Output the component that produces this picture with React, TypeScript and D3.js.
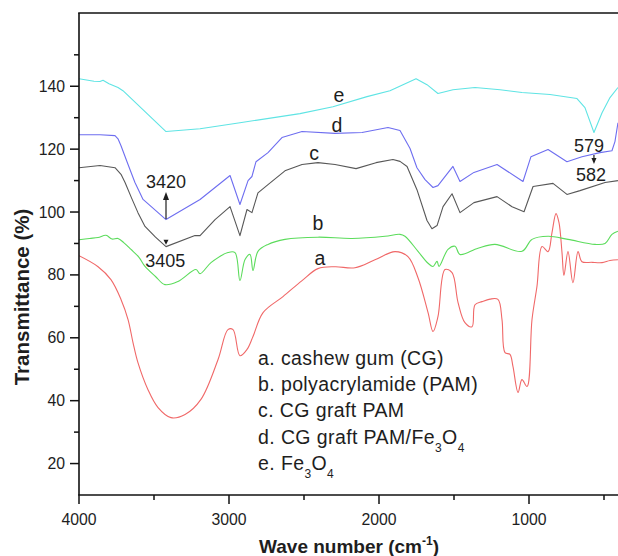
import React from "react";
import * as d3 from "d3";

// FTIR spectra: wavenumber (cm-1) and transmittance (%) for each sample
const waveA = [4000, 3873, 3787, 3720, 3673, 3640, 3607, 3540, 3473, 3387, 3293, 3187, 3073, 3007, 2973, 2927, 2880, 2840, 2773, 2640, 2513, 2407, 2293, 2160, 2027, 1893, 1807, 1740, 1673, 1640, 1607, 1560, 1513, 1473, 1427, 1380, 1360, 1313, 1260, 1207, 1180, 1160, 1127, 1107, 1073, 1047, 1013, 980, 947, 913, 873, 847, 820, 800, 780, 767, 740, 707, 673, 647, 580, 513, 460, 407];
const transA = [86.1, 82.6, 78.5, 72.2, 65.8, 58.5, 52.1, 43.5, 37.8, 34.6, 35.6, 40.4, 53.1, 62.6, 62.6, 54.3, 56.3, 60.4, 68.0, 73.1, 78.2, 82.0, 82.6, 82.3, 84.8, 87.4, 85.8, 79.1, 68.0, 62.0, 66.7, 81.7, 80.7, 71.2, 64.8, 63.5, 70.5, 71.5, 72.3, 72.2, 65.8, 55.3, 54.7, 50.9, 42.6, 46.7, 44.5, 65.8, 76.3, 89.0, 87.4, 93.4, 99.5, 96.6, 87.1, 79.8, 87.4, 77.5, 87.4, 84.2, 84.0, 83.9, 84.6, 84.8];

const waveB = [4000, 3930, 3873, 3820, 3780, 3740, 3700, 3653, 3600, 3560, 3490, 3427, 3340, 3220, 3193, 3120, 3007, 2960, 2927, 2893, 2860, 2840, 2807, 2740, 2627, 2407, 2180, 1960, 1860, 1827, 1740, 1673, 1640, 1613, 1600, 1540, 1493, 1460, 1340, 1227, 1047, 980, 873, 740, 560, 493, 447, 407];
const transB = [91.2, 91.6, 91.9, 92.6, 91.4, 91.6, 90.2, 88.1, 85.6, 82.7, 79.5, 76.9, 77.9, 81.7, 80.4, 83.9, 87.1, 87.1, 78.2, 84.9, 86.5, 81.4, 87.5, 89.7, 91.3, 92.0, 91.6, 92.3, 92.9, 92.3, 87.5, 83.7, 82.7, 84.3, 82.7, 88.1, 89.1, 86.5, 88.5, 89.7, 87.5, 91.3, 92.3, 91.3, 89.7, 90.0, 92.9, 93.9];

const waveC = [4000, 3860, 3760, 3720, 3693, 3650, 3607, 3560, 3490, 3420, 3227, 3193, 3093, 2993, 2927, 2880, 2847, 2807, 2740, 2627, 2513, 2407, 2293, 2153, 2020, 1907, 1860, 1813, 1747, 1680, 1647, 1613, 1573, 1513, 1460, 1367, 1213, 1113, 1033, 973, 840, 747, 660, 493, 407];
const transC = [114.1, 114.8, 114.1, 112.0, 109.4, 104.5, 99.8, 95.4, 92.0, 89.0, 92.5, 92.5, 97.6, 101.7, 92.5, 100.8, 99.8, 106.1, 108.7, 113.1, 115.1, 115.7, 115.1, 113.8, 115.7, 116.7, 116.1, 114.5, 107.1, 97.3, 94.7, 95.7, 101.7, 105.8, 99.8, 103.0, 104.9, 101.7, 100.1, 108.1, 109.1, 105.6, 106.8, 109.4, 110.0];

const waveD = [4000, 3860, 3760, 3740, 3720, 3673, 3627, 3573, 3420, 3193, 2993, 2927, 2873, 2847, 2820, 2740, 2647, 2513, 2293, 2113, 1940, 1860, 1793, 1747, 1693, 1640, 1607, 1507, 1460, 1367, 1213, 1040, 987, 873, 747, 647, 527, 447, 427, 407];
const transD = [124.6, 124.6, 124.3, 123.3, 121.1, 115.1, 109.4, 104.0, 97.6, 104.0, 111.6, 102.4, 110.0, 111.3, 116.0, 118.9, 123.7, 125.6, 125.0, 125.3, 126.9, 125.9, 120.2, 114.1, 110.3, 107.8, 108.4, 114.5, 109.7, 112.6, 115.1, 109.7, 117.6, 119.9, 116.0, 117.6, 118.9, 119.5, 122.4, 128.4];

const waveE = [4000, 3900, 3860, 3840, 3800, 3740, 3707, 3420, 3193, 2927, 2527, 2307, 2080, 1927, 1753, 1680, 1607, 1507, 1360, 1193, 1047, 860, 680, 627, 567, 513, 460, 407];
const transE = [142.4, 141.6, 141.5, 141.9, 140.8, 139.6, 138.6, 125.6, 126.5, 128.4, 131.3, 133.5, 136.7, 138.6, 142.4, 140.5, 137.7, 138.9, 139.6, 138.9, 138.0, 137.4, 136.1, 133.2, 125.3, 131.6, 136.4, 139.6];

const seriesKeys = ["a", "b", "c", "d", "e"];
const seriesColors = ["#f06868", "#5cdc5c", "#585858", "#6e6ef0", "#5fe4e4"];
const seriesWaves = [waveA, waveB, waveC, waveD, waveE];
const seriesTrans = [transA, transB, transC, transD, transE];
const seriesSmooth = [true, true, false, false, false];

// Curve tags placed beside each trace (wavenumber, transmittance)
const tagWave = [2393, 2407, 2433, 2280, 2267];
const tagTrans = [83.2, 94.3, 116.5, 125.3, 135.0];

const legendLines = [
  ["a. cashew gum (CG)"],
  ["b. polyacrylamide (PAM)"],
  ["c. CG graft PAM"],
  ["d. CG graft PAM/Fe", "3", "O", "4"],
  ["e. Fe", "3", "O", "4"],
];

const xMajorTicks = [4000, 3000, 2000, 1000];
const xMinorTicks = [3500, 2500, 1500, 500];
const yMajorTicks = [20, 40, 60, 80, 100, 120, 140];
const yMinorTicks = [30, 50, 70, 90, 110, 130, 150];

const W = 618;
const H = 556;
const FONT = "'Liberation Sans', Arial, Helvetica, sans-serif";

export default function App() {
  const x = d3.scaleLinear().domain([4000, 400]).range([79, 619]);
  const y = d3.scaleLinear().domain([10, 163.3]).range([495, 13]);

  const smoothLine = d3
    .line<[number, number]>()
    .x((p) => x(p[0]))
    .y((p) => y(p[1]))
    .curve(d3.curveCatmullRom.alpha(0.5));
  const straightLine = d3
    .line<[number, number]>()
    .x((p) => x(p[0]))
    .y((p) => y(p[1]));

  const txt = "#1e1e1e";

  return (
    <svg
      width={W}
      height={H}
      style={{ position: "absolute", left: 0, top: 0, background: "#fff" }}
      fontFamily={FONT}
    >
      <defs>
        <clipPath id="plot">
          <rect x={79} y={13} width={W - 79} height={482} />
        </clipPath>
      </defs>

      {/* spectra */}
      <g clipPath="url(#plot)">
        {seriesKeys.map((k, i) => {
          const pts = seriesWaves[i].map((w, j) => [w, seriesTrans[i][j]] as [number, number]);
          const gen = seriesSmooth[i] ? smoothLine : straightLine;
          return (
            <path key={k} d={gen(pts) || ""} fill="none" stroke={seriesColors[i]} strokeWidth={1.1} strokeLinejoin="round" />
          );
        })}
      </g>

      {/* frame */}
      <g stroke="#111" strokeWidth={1.6} fill="none">
        <line x1={79} y1={13} x2={79} y2={495} />
        <line x1={78.2} y1={495} x2={W} y2={495} />
        <line x1={78.2} y1={13} x2={W} y2={13} />
      </g>

      {/* ticks */}
      <g stroke="#111" strokeWidth={1.5}>
        {xMajorTicks.map((t) => (
          <line key={"xM" + t} x1={x(t)} x2={x(t)} y1={495} y2={504} />
        ))}
        {xMinorTicks.map((t) => (
          <line key={"xm" + t} x1={x(t)} x2={x(t)} y1={495} y2={500} />
        ))}
        {yMajorTicks.map((t) => (
          <line key={"yM" + t} x1={70} x2={79} y1={y(t)} y2={y(t)} />
        ))}
        {yMinorTicks.map((t) => (
          <line key={"ym" + t} x1={74} x2={79} y1={y(t)} y2={y(t)} />
        ))}
      </g>

      {/* tick labels */}
      <g fill={txt} fontSize={15.8}>
        {xMajorTicks.map((t) => (
          <text key={"xl" + t} x={x(t)} y={525} textAnchor="middle">
            {t}
          </text>
        ))}
        {yMajorTicks.map((t) => (
          <text key={"yl" + t} x={65} y={y(t) + 5.5} textAnchor="end">
            {t}
          </text>
        ))}
      </g>

      {/* axis titles */}
      <text
        x={0}
        y={0}
        transform="translate(29,297) rotate(-90)"
        textAnchor="middle"
        fontSize={20.5}
        fontWeight="bold"
        fill={txt}
      >
        Transmittance (%)
      </text>
      <text x={349} y={553} textAnchor="middle" fontSize={19} fontWeight="bold" fill={txt}>
        Wave number (cm
        <tspan fontSize={12} dy={-8}>-1</tspan>
        <tspan dy={8}>)</tspan>
      </text>

      {/* curve tags */}
      <g fill={txt} fontSize={19.5} textAnchor="middle">
        {seriesKeys.map((k, i) => (
          <text key={"tag" + k} x={x(tagWave[i])} y={y(tagTrans[i])}>
            {k}
          </text>
        ))}
      </g>

      {/* peak annotations */}
      <g fill={txt} fontSize={18} textAnchor="middle">
        <text x={x(3420)} y={188}>3420</text>
        <text x={x(3425)} y={267}>3405</text>
        <text x={589} y={152}>579</text>
        <text x={591} y={181}>582</text>
      </g>
      <g stroke={txt} strokeWidth={1.2} fill={txt}>
        <line x1={x(3420)} x2={x(3420)} y1={y(97.8)} y2={198} />
        <path d={`M${x(3420) - 3},${200} L${x(3420)},${192} L${x(3420) + 3},${200} Z`} stroke="none" />
        <path d={`M${x(3420) - 2.5},${y(89.6) - 5} L${x(3420)},${y(89.6)} L${x(3420) + 2.5},${y(89.6) - 5} Z`} stroke="none" />
        <line x1={x(567)} x2={x(567)} y1={155} y2={159} />
        <path d={`M${x(567) - 2.5},${158} L${x(567)},${164} L${x(567) + 2.5},${158} Z`} stroke="none" />
      </g>

      {/* legend */}
      <g fill={txt} fontSize={19.5} letterSpacing={0.4}>
        {legendLines.map((parts, i) => (
          <text key={"lg" + i} x={258} y={365 + i * 26.2}>
            {parts.map((p, j) =>
              j % 2 === 1 ? (
                <tspan key={j} fontSize={12} dy={8}>
                  {p}
                </tspan>
              ) : (
                <tspan key={j} dy={j === 0 ? 0 : -8}>
                  {p}
                </tspan>
              )
            )}
          </text>
        ))}
      </g>
    </svg>
  );
}
